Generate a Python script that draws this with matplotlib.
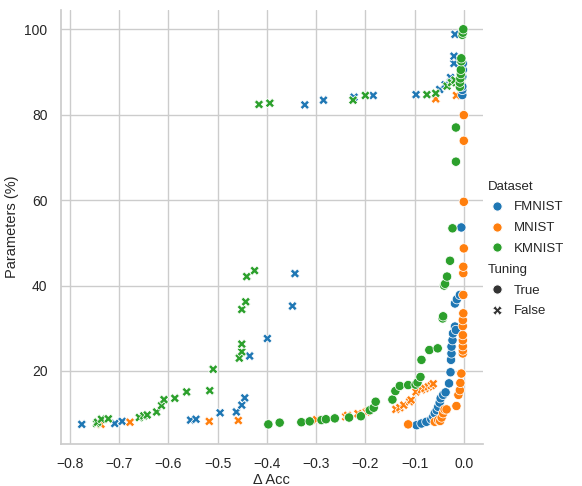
import matplotlib
matplotlib.use("Agg")
import matplotlib.pyplot as plt
from matplotlib.lines import Line2D
import seaborn as sns
import pandas as pd

# ---- data ----
fm_true_x = [-0.096, -0.086, -0.076, -0.066, -0.062, -0.059, -0.055, -0.052, -0.049, -0.047, -0.042, -0.037,
             -0.030, -0.027, -0.026, -0.025, -0.025, -0.023, -0.022, -0.018, -0.016, -0.018, -0.014, -0.008,
             -0.005, -0.003, -0.003, -0.003, -0.003, -0.002, -0.002]
fm_true_y = [7.3, 7.7, 8.1, 8.7, 9.3, 10.1, 10.8, 11.6, 12.6, 13.6, 14.4, 15.0,
             17.1, 19.7, 22.6, 24.1, 25.7, 27.2, 28.8, 30.4, 29.6, 35.8, 36.8, 37.8,
             53.6, 84.6, 85.8, 86.6, 88.9, 90.5, 92.0]

mn_true_x = [-0.113, -0.059, -0.052, -0.048, -0.045, -0.042, -0.039, -0.035, -0.015, -0.011, -0.008, -0.007,
             -0.005, -0.002, -0.002, -0.002, -0.002, -0.002, -0.002, -0.002, -0.001, -0.001, -0.001, -0.001,
             0.0, 0.0, 0.0, 0.0]
mn_true_y = [7.5, 8.1, 8.5, 8.3, 9.1, 10.1, 11.0, 11.0, 11.8, 14.4, 15.5, 17.2,
             19.4, 24.1, 24.8, 25.8, 27.2, 28.4, 30.5, 31.9, 33.5, 37.8, 42.9, 44.4,
             48.7, 59.6, 73.9, 79.9]

km_true_x = [-0.397, -0.374, -0.330, -0.313, -0.289, -0.280, -0.262, -0.233, -0.209, -0.191, -0.183, -0.179,
             -0.145, -0.139, -0.130, -0.113, -0.098, -0.094, -0.088, -0.086, -0.070, -0.053, -0.043, -0.042,
             -0.040, -0.038, -0.034, -0.028, -0.023, -0.016, -0.016, -0.008, -0.008, -0.007, -0.006, -0.006,
             -0.005, -0.005, -0.003, -0.002, -0.001]
km_true_y = [7.5, 7.9, 8.0, 8.2, 8.5, 8.7, 8.9, 9.1, 9.4, 10.8, 11.4, 12.8,
             13.3, 15.3, 16.5, 16.7, 16.8, 17.3, 18.6, 22.6, 24.9, 25.3, 32.3, 32.8,
             40.0, 40.4, 42.1, 45.8, 53.4, 69.0, 77.0, 86.5, 87.5, 88.5, 89.5, 90.5,
             92.5, 93.2, 98.7, 99.2, 100.0]

fm_false_x = [-0.776, -0.709, -0.694, -0.555, -0.544, -0.495, -0.462, -0.451, -0.445, -0.435, -0.399, -0.348,
              -0.343, -0.323, -0.285, -0.223, -0.184, -0.097, -0.049, -0.038, -0.027, -0.020, -0.020, -0.018]
fm_false_y = [7.5, 7.7, 8.2, 8.5, 8.7, 10.2, 10.4, 12.0, 13.7, 23.5, 27.6, 35.2,
              42.8, 82.3, 83.4, 84.1, 84.5, 84.7, 85.9, 87.0, 88.7, 92.0, 93.7, 98.8]

mn_false_x = [-0.737, -0.678, -0.517, -0.458, -0.299, -0.240, -0.236, -0.215, -0.198, -0.194, -0.138, -0.130,
              -0.122, -0.110, -0.107, -0.097, -0.086, -0.079, -0.072, -0.066, -0.062, -0.057, -0.015]
mn_false_y = [7.5, 8.0, 8.2, 8.4, 8.6, 9.3, 9.6, 10.0, 10.4, 10.6, 11.0, 11.4,
              12.0, 12.8, 13.2, 15.1, 15.6, 15.9, 16.3, 16.6, 17.0, 83.7, 84.5]

km_false_x = [-0.746, -0.744, -0.736, -0.722, -0.659, -0.650, -0.643, -0.624, -0.614, -0.609, -0.587, -0.563,
              -0.516, -0.509, -0.456, -0.451, -0.451, -0.451, -0.443, -0.441, -0.425, -0.416, -0.394, -0.225,
              -0.200, -0.075, -0.057, -0.034, -0.025, -0.018]
km_false_y = [7.7, 8.0, 8.7, 8.8, 9.1, 9.5, 9.7, 10.4, 11.9, 13.3, 13.6, 15.1,
              15.4, 20.4, 23.0, 24.5, 26.3, 34.4, 36.2, 42.1, 43.5, 82.4, 82.7, 83.4,
              84.5, 84.7, 85.0, 86.7, 87.5, 88.1]

datasets = ["FMNIST", "MNIST", "KMNIST"]
tunings = [True, False]
tuning_labels = ["True", "False"]
tuning_markers = ["o", "X"]
x_ticks = [-0.8, -0.7, -0.6, -0.5, -0.4, -0.3, -0.2, -0.1, 0.0]
y_ticks = [20, 40, 60, 80, 100]

series = [
    ("FMNIST", False, fm_false_x, fm_false_y),
    ("MNIST", False, mn_false_x, mn_false_y),
    ("KMNIST", False, km_false_x, km_false_y),
    ("FMNIST", True, fm_true_x, fm_true_y),
    ("MNIST", True, mn_true_x, mn_true_y),
    ("KMNIST", True, km_true_x, km_true_y),
]
rows = []
for ds, tu, xs, ys in series:
    for xv, yv in zip(xs, ys):
        rows.append({"Dataset": ds, "Tuning": tu, "dacc": xv, "params": yv})
df = pd.DataFrame(rows)

sns.set_theme(style="whitegrid")
plt.rcParams["font.family"] = ["Liberation Sans", "DejaVu Sans"]
plt.rcParams["xtick.labelsize"] = 10
plt.rcParams["ytick.labelsize"] = 10
plt.rcParams["axes.labelsize"] = 10.5

palette = sns.color_palette("tab10", 3)
msize = 45

fig = plt.figure(figsize=(5.82, 4.86), dpi=100)
ax = fig.add_axes([0.1041, 0.0864, 0.7258, 0.8938])
sns.scatterplot(data=df, x="dacc", y="params", hue="Dataset", hue_order=datasets,
                style="Tuning", style_order=tunings, markers=dict(zip(tunings, tuning_markers)),
                palette=palette, ax=ax, s=msize, legend=False)
ax.set_xlim(-0.819, 0.039)
ax.set_ylim(2.9, 104.6)
ax.set_xticks(x_ticks)
ax.set_yticks(y_ticks)
ax.set_xlabel("Δ Acc", labelpad=1)
ax.set_ylabel("Parameters (%)")
sns.despine(ax=ax)

# ---- legend ----
ms = msize ** 0.5
handles, labels = [], []
handles.append(Line2D([], [], linestyle="none", visible=False)); labels.append("Dataset")
for name, col in zip(datasets, palette):
    handles.append(Line2D([], [], linestyle="none", marker="o", markersize=ms,
                          markerfacecolor=col, markeredgecolor="white", markeredgewidth=0.75))
    labels.append(name)
handles.append(Line2D([], [], linestyle="none", visible=False)); labels.append("Tuning")
for lab, mk in zip(tuning_labels, tuning_markers):
    handles.append(Line2D([], [], linestyle="none", marker=mk, markersize=ms,
                          markerfacecolor=".2", markeredgecolor="white", markeredgewidth=0.75))
    labels.append(lab)

leg = fig.legend(handles, labels, loc="center left", bbox_to_anchor=(0.8108, 0.488),
                 frameon=False, fontsize=9.5, labelspacing=0.65, handletextpad=0.3,
                 handlelength=2.0)
for hpack in leg.findobj(matplotlib.offsetbox.VPacker)[0].get_children():
    draw_area, text_area = hpack.get_children()
    if not all(a.get_visible() for a in draw_area.get_children()):
        draw_area.set_width(0)

fig.savefig("out.png", dpi=100)
